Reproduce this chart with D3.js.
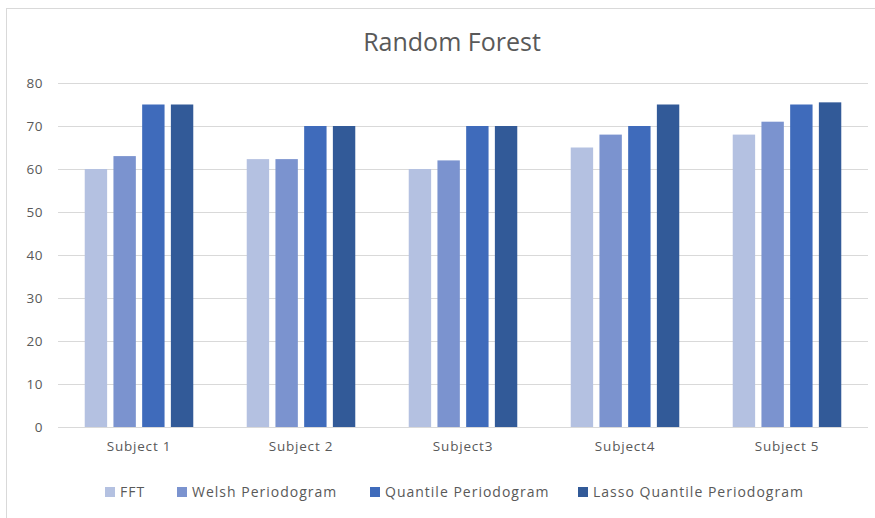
<!DOCTYPE html>
<html>
<head>
<meta charset="utf-8">
<script src="https://cdn.jsdelivr.net/npm/d3@7"></script>
<style>
  html, body { margin: 0; padding: 0; background: #fff; }
  svg { display: block; font-family: "Open Sans", Lato, "Liberation Sans", sans-serif; }
</style>
</head>
<body>
<svg id="chart" width="875" height="518"></svg>
<script>
// Accuracy per subject for each spectral feature method
const subjects = ["Subject 1", "Subject 2", "Subject3", "Subject4", "Subject 5"];
const seriesNames = ["FFT", "Welsh Periodogram", "Quantile Periodogram", "Lasso Quantile Periodogram"];
const fft = [60, 62.3, 60, 65, 68];
const welsh = [63, 62.3, 62, 68, 71];
const quantile = [75, 70, 70, 70, 75];
const lassoQuantile = [75, 70, 70, 75, 75.5];
const yTicks = [0, 10, 20, 30, 40, 50, 60, 70, 80];
const colors = ["#b4c1e1", "#7b93cf", "#3f6bbb", "#325a98"];

const values = [fft, welsh, quantile, lassoQuantile];

const svg = d3.select("#chart");
const plot = { left: 58, right: 868, top: 83, bottom: 427 };
const labelFont = { size: "13.5px", spacing: "0.8px", color: "#595959" };

// outer frame of the chart area
svg.append("rect")
  .attr("x", 6.5).attr("y", 8.5)
  .attr("width", 900).attr("height", 600)
  .attr("fill", "none").attr("stroke", "#d9d9d9");

const x0 = d3.scaleBand().domain(subjects).range([plot.left, plot.right]).padding(0);
const groupPad = x0.bandwidth() * 0.165;
const x1 = d3.scaleBand().domain(seriesNames)
  .range([groupPad, x0.bandwidth() - groupPad]).paddingInner(0.22);
const y = d3.scaleLinear().domain([0, 80]).range([plot.bottom, plot.top]);

// horizontal gridlines
svg.append("g").selectAll("line")
  .data(yTicks.filter(d => d > 0))
  .join("line")
  .attr("x1", plot.left).attr("x2", plot.right)
  .attr("y1", d => Math.round(y(d)) + 0.5).attr("y2", d => Math.round(y(d)) + 0.5)
  .attr("stroke", "#d9d9d9").attr("stroke-width", 1);

// y axis labels
const yAxis = d3.axisLeft(y).tickValues(yTicks).tickSize(0).tickPadding(0);
const gy = svg.append("g").attr("transform", `translate(${plot.left - 15},0)`).call(yAxis);
gy.select(".domain").remove();
gy.selectAll("text").attr("fill", labelFont.color)
  .style("font-size", labelFont.size).style("letter-spacing", "0.5px")
  .style("font-family", "'Open Sans', sans-serif");

// bars
const groups = svg.append("g").selectAll("g")
  .data(subjects)
  .join("g")
  .attr("transform", d => `translate(${x0(d)},0)`);

groups.selectAll("rect")
  .data((d, i) => seriesNames.map((s, j) => ({ series: s, value: values[j][i], color: colors[j] })))
  .join("rect")
  .attr("x", d => x1(d.series))
  .attr("width", x1.bandwidth())
  .attr("y", d => y(d.value))
  .attr("height", d => y(0) - y(d.value))
  .attr("fill", d => d.color);

// x axis
const xAxis = d3.axisBottom(x0).tickSize(0).tickPadding(14);
const gx = svg.append("g").attr("transform", `translate(0,${plot.bottom})`).call(xAxis);
gx.select(".domain").attr("stroke", "#d9d9d9").attr("d", `M${plot.left},0.5H${plot.right}`);
gx.selectAll("text").attr("fill", labelFont.color)
  .style("font-size", labelFont.size).style("letter-spacing", labelFont.spacing)
  .style("font-family", "'Open Sans', sans-serif");

// title
svg.append("text")
  .attr("x", 452).attr("y", 51)
  .attr("text-anchor", "middle")
  .attr("fill", "#595959")
  .style("font-size", "25px")
  .text("Random Forest");

// legend
const legendX = [105, 177, 370, 578];
const legend = svg.append("g").selectAll("g")
  .data(seriesNames)
  .join("g")
  .attr("transform", (d, i) => `translate(${legendX[i]},487)`);
legend.append("rect")
  .attr("width", 10).attr("height", 10)
  .attr("fill", (d, i) => colors[i]);
legend.append("text")
  .attr("x", 15).attr("y", 10)
  .attr("fill", labelFont.color)
  .style("font-size", "14px")
  .style("letter-spacing", "1px")
  .text(d => d);
</script>
</body>
</html>
